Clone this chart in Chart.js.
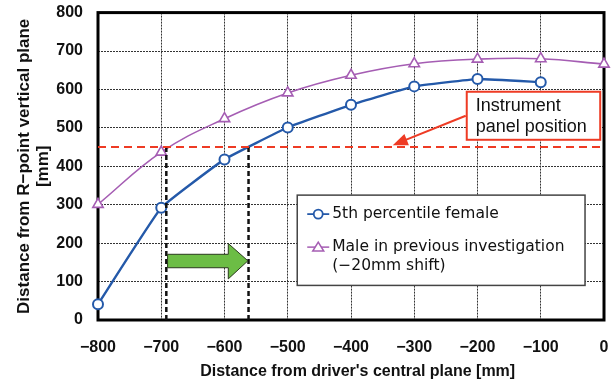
<!DOCTYPE html>
<html>
<head>
<meta charset="utf-8">
<script src="https://cdn.jsdelivr.net/npm/chart.js@4.4.0/dist/chart.umd.min.js"></script>
<style>
  html, body { margin: 0; padding: 0; background: #fff; }
  #wrap { width: 616px; height: 381px; position: relative; }
</style>
</head>
<body>
<div id="wrap"><canvas id="chart" width="616" height="381"></canvas></div>
<script>
// x positions (mm from driver's central plane)
var xFemale = [-800, -700, -600, -500, -400, -300, -200, -100];
var yFemale = [41, 292, 418, 501, 560, 608, 627, 619];
var xMale = [-800, -700, -600, -500, -400, -300, -200, -100, 0];
var yMale = [301, 437, 524, 591, 637, 667, 679, 680, 666];

var panelHeight = [450, 450];
var panelX = [-800, 0];
var reachX = [-692, -562];   // where each curve crosses the panel line

var xTickLabels = ['\u2212800', '\u2212700', '\u2212600', '\u2212500', '\u2212400', '\u2212300', '\u2212200', '\u2212100', '0'];
var yTickLabels = ['0', '100', '200', '300', '400', '500', '600', '700', '800'];

var legendLabels = ['5th percentile female', 'Male in previous investigation', '(\u221220mm shift)'];
var calloutText = ['Instrument', 'panel position'];

var BLUE = '#2459a9', PURPLE = '#a55db3', RED = '#ee3b24', GREEN = '#6cbd45';

function pts(xs, ys) {
  var out = [];
  for (var i = 0; i < xs.length; i++) out.push({x: xs[i], y: ys[i]});
  return out;
}

var datasets = [
  {
    label: 'panel', data: pts(panelX, panelHeight),
    borderColor: RED, borderWidth: 2, borderDash: [8, 5], pointRadius: 0, clip: false
  },
  {
    label: 'reach1', data: [{x: reachX[0], y: panelHeight[0]}, {x: reachX[0], y: -6}],
    borderColor: '#111', borderWidth: 2.5, borderDash: [5, 3], pointRadius: 0, clip: false
  },
  {
    label: 'reach2', data: [{x: reachX[1], y: panelHeight[0]}, {x: reachX[1], y: -6}],
    borderColor: '#111', borderWidth: 2.5, borderDash: [5, 3], pointRadius: 0, clip: false
  },
  {
    label: legendLabels[1], data: pts(xMale, yMale),
    borderColor: PURPLE, borderWidth: 1.6, tension: 0.4,
    pointStyle: 'triangle', pointRadius: 6, pointBorderWidth: 1.6,
    pointBackgroundColor: '#fff', pointBorderColor: PURPLE, clip: false
  },
  {
    label: legendLabels[0], data: pts(xFemale, yFemale),
    borderColor: BLUE, borderWidth: 2.4, tension: 0.1,
    pointStyle: 'circle', pointRadius: 5, pointBorderWidth: 2,
    pointBackgroundColor: '#fff', pointBorderColor: BLUE, clip: false
  }
];

var decorations = {
  id: 'decorations',
  beforeDatasetsDraw: function (chart) {
    var ctx = chart.ctx, a = chart.chartArea;
    ctx.save();
    ctx.strokeStyle = '#000';
    ctx.lineWidth = 3;
    ctx.strokeRect(a.left, a.top, a.right - a.left, a.bottom - a.top);
    ctx.restore();
  },
  afterDatasetsDraw: function (chart) {
    var ctx = chart.ctx;
    var xs = chart.scales.x, ys = chart.scales.y;
    function X(v) { return xs.getPixelForValue(v); }
    function Y(v) { return ys.getPixelForValue(v); }

    // green arrow between the two reach lines
    ctx.save();
    ctx.beginPath();
    ctx.moveTo(X(-690), Y(171));
    ctx.lineTo(X(-594), Y(171));
    ctx.lineTo(X(-594), Y(199));
    ctx.lineTo(X(-563), Y(154));
    ctx.lineTo(X(-594), Y(107));
    ctx.lineTo(X(-594), Y(136));
    ctx.lineTo(X(-690), Y(136));
    ctx.closePath();
    ctx.fillStyle = GREEN;
    ctx.fill();
    ctx.strokeStyle = '#2b3a1e';
    ctx.lineWidth = 1;
    ctx.stroke();
    ctx.restore();

    // callout
    ctx.save();
    var bx = X(-217), by = Y(594), bw = X(-6) - bx, bh = Y(469) - by;
    ctx.fillStyle = '#fff';
    ctx.fillRect(bx, by, bw, bh);
    ctx.strokeStyle = RED;
    ctx.lineWidth = 2;
    ctx.strokeRect(bx, by, bw, bh);
    ctx.fillStyle = '#111';
    ctx.font = '18px "Liberation Sans", Arial, sans-serif';
    ctx.textBaseline = 'middle';
    ctx.fillText(calloutText[0], bx + 9, by + 14);
    ctx.fillText(calloutText[1], bx + 9, by + 35);
    // arrow from callout to the dashed line
    var sx = bx - 1, sy = by + 24, tx = X(-334), ty = Y(455);
    var ang = Math.atan2(ty - sy, tx - sx);
    ctx.strokeStyle = RED; ctx.fillStyle = RED; ctx.lineWidth = 2;
    ctx.beginPath();
    ctx.moveTo(sx, sy);
    ctx.lineTo(tx - 12 * Math.cos(ang), ty - 12 * Math.sin(ang));
    ctx.stroke();
    ctx.beginPath();
    ctx.moveTo(tx, ty);
    ctx.lineTo(tx - 15 * Math.cos(ang) + 6 * Math.sin(ang), ty - 15 * Math.sin(ang) - 6 * Math.cos(ang));
    ctx.lineTo(tx - 15 * Math.cos(ang) - 6 * Math.sin(ang), ty - 15 * Math.sin(ang) + 6 * Math.cos(ang));
    ctx.closePath();
    ctx.fill();
    ctx.restore();

    // legend box
    ctx.save();
    var lx = X(-485), ly = Y(325), lw = X(-30) - lx, lh = Y(90) - ly;
    ctx.fillStyle = '#fff';
    ctx.fillRect(lx, ly, lw, lh);
    ctx.strokeStyle = '#444';
    ctx.lineWidth = 1.5;
    ctx.strokeRect(lx, ly, lw, lh);
    ctx.font = '15.5px "DejaVu Sans", sans-serif';
    ctx.fillStyle = '#111';
    ctx.textBaseline = 'middle';
    var mx = lx + 21, r1 = ly + 19, r2 = ly + 52;
    // row 1
    ctx.strokeStyle = BLUE; ctx.lineWidth = 1.8;
    ctx.beginPath(); ctx.moveTo(lx + 10, r1); ctx.lineTo(lx + 32, r1); ctx.stroke();
    ctx.fillStyle = '#fff';
    ctx.beginPath(); ctx.arc(mx, r1, 4.5, 0, Math.PI * 2); ctx.fill(); ctx.stroke();
    // row 2
    ctx.strokeStyle = PURPLE; ctx.lineWidth = 1.5;
    ctx.beginPath(); ctx.moveTo(lx + 10, r2); ctx.lineTo(lx + 32, r2); ctx.stroke();
    ctx.beginPath();
    ctx.moveTo(mx, r2 - 5); ctx.lineTo(mx + 5.5, r2 + 4); ctx.lineTo(mx - 5.5, r2 + 4); ctx.closePath();
    ctx.fill(); ctx.stroke();
    ctx.fillStyle = '#111';
    ctx.fillText(legendLabels[0], lx + 35, r1);
    ctx.fillText(legendLabels[1], lx + 35, r2);
    ctx.fillText(legendLabels[2], lx + 35, r2 + 19);
    ctx.restore();
  }
};

new Chart(document.getElementById('chart'), {
  type: 'line',
  data: { datasets: datasets },
  options: {
    responsive: false,
    animation: false,
    layout: { padding: { left: 0, right: 12, top: 10, bottom: 0 } },
    plugins: { legend: { display: false }, tooltip: { enabled: false } },
    scales: {
      x: {
        type: 'linear', min: -800, max: 0,
        afterFit: function (s) { s.height = 61; },
        grid: { color: '#333', lineWidth: 1, drawTicks: true, tickLength: 15, tickColor: 'rgba(0,0,0,0)' },
        border: { display: false, dash: [2, 1] },
        ticks: {
          stepSize: 100, padding: 3, color: '#111',
          font: { family: '"Liberation Sans", Arial, sans-serif', size: 16, weight: 'bold' },
          callback: function (v, i) { return xTickLabels[i]; }
        },
        title: {
          display: true, text: "   Distance from driver's central plane [mm]", color: '#111',
          font: { family: '"Liberation Sans", Arial, sans-serif', size: 16, weight: 'bold' },
          padding: { top: 0, bottom: 0 }
        }
      },
      y: {
        type: 'linear', min: 0, max: 800,
        afterFit: function (s) { s.width = 98; },
        grid: { color: '#333', lineWidth: 1, drawTicks: true, tickLength: 12, tickColor: 'rgba(0,0,0,0)' },
        border: { display: false, dash: [2, 1] },
        ticks: {
          stepSize: 100, padding: 3, color: '#111',
          font: { family: '"Liberation Sans", Arial, sans-serif', size: 16, weight: 'bold' },
          callback: function (v, i) { return yTickLabels[i]; }
        },
        title: {
          display: true, text: ['Distance from R\u2212point vertical plane', '[mm]'], color: '#111',
          font: { family: '"Liberation Sans", Arial, sans-serif', size: 17, weight: 'bold', lineHeight: 1.1 },
          padding: { top: 15, bottom: 0 }
        }
      }
    }
  },
  plugins: [decorations]
});
</script>
</body>
</html>
